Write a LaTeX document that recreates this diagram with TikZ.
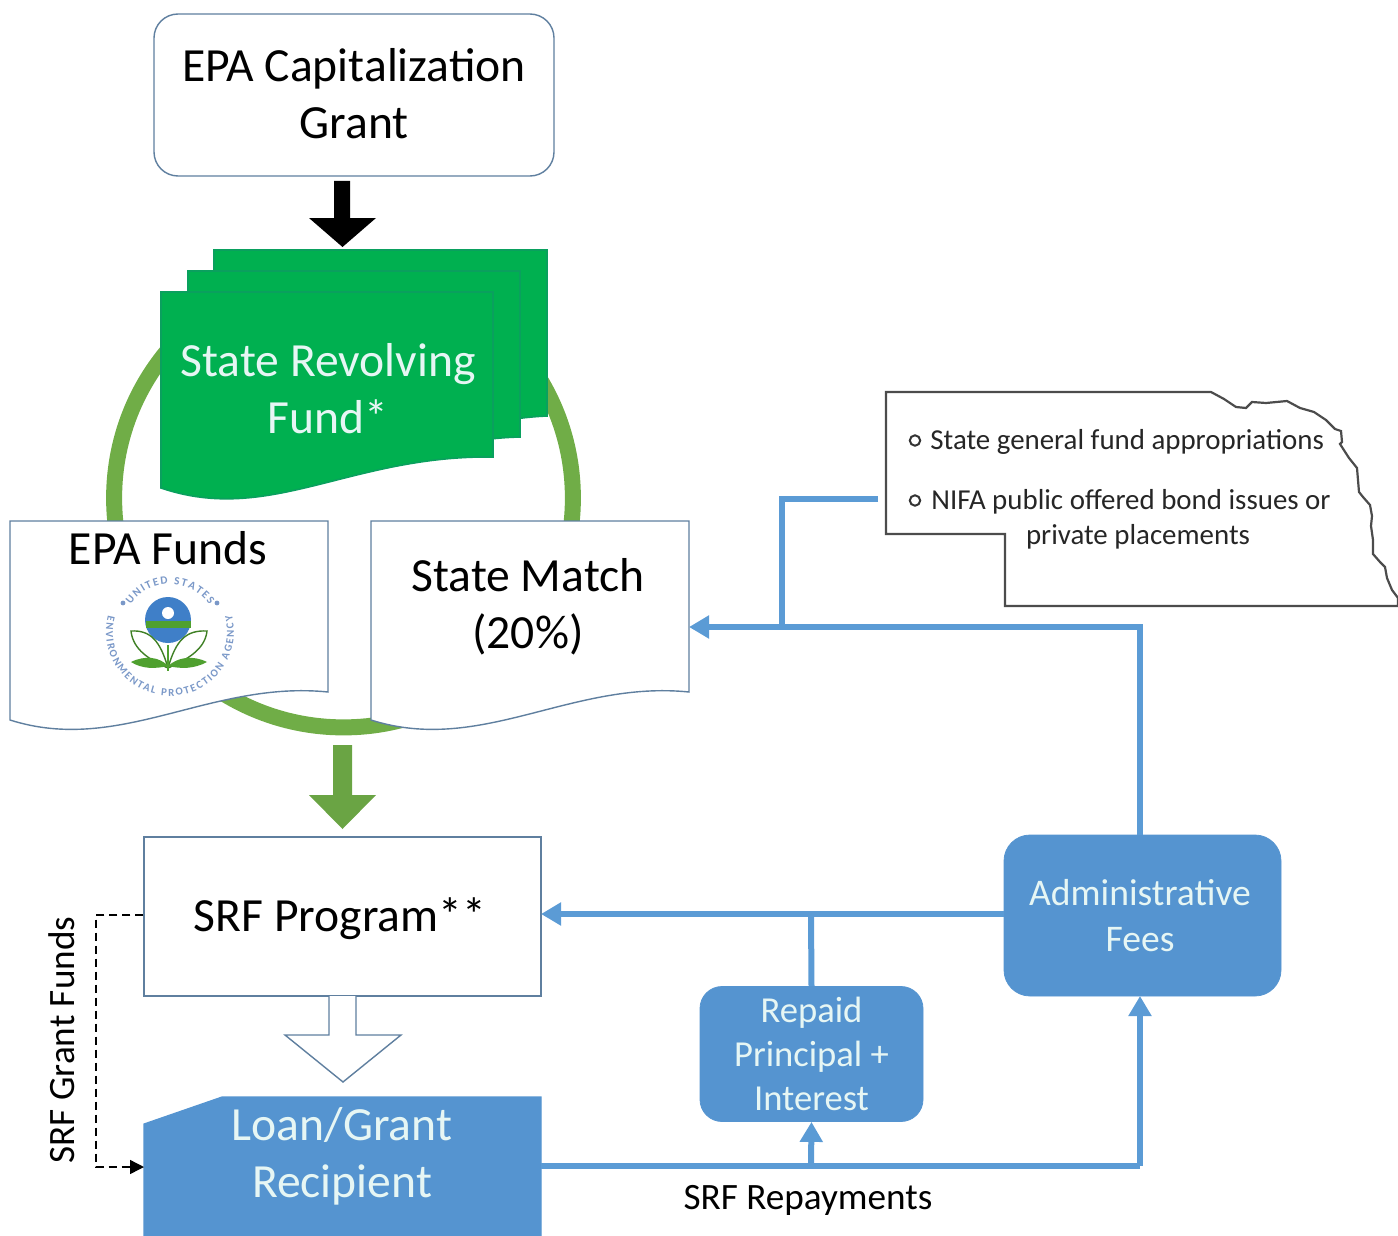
\documentclass[tikz,border=0pt]{standalone}
\usepackage{fontspec}
\setmainfont{Carlito}
\usetikzlibrary{arrows.meta,decorations.text}
\definecolor{edgeblue}{HTML}{5F7F9F}
\definecolor{srfblue}{HTML}{5B9BD5}
\definecolor{boxblue}{HTML}{5594D0}
\definecolor{sheetgreen}{HTML}{00B050}
\definecolor{sheetedge}{HTML}{0AA05E}
\definecolor{ringgreen}{HTML}{70AD47}
\definecolor{paletext}{HTML}{E6F6F4}
\definecolor{logotext}{HTML}{7A98C8}
\definecolor{logoblue}{HTML}{3F7FC8}
\definecolor{logogreen}{HTML}{4FA02F}
\tikzset{
  x=0.5pt,y=-0.5pt,
  bigtext/.style={font=\fontsize{23.8}{28.5}\selectfont,align=center,inner sep=0pt},
  midtext/.style={font=\fontsize{18.8}{22.8}\selectfont,align=center,inner sep=0pt},
  labeltext/.style={font=\fontsize{18.6}{20}\selectfont,inner sep=0pt},
  nebtext/.style={font=\fontsize{14.45}{17.5}\selectfont,text=black!85,inner sep=0pt},
  whitebox/.style={draw=edgeblue,fill=white,line width=0.7pt},
  flow/.style={draw=srfblue,line width=3pt},
  flowtip/.style={-{Triangle[length=10pt,width=11pt]}},
  bluebox/.style={fill=boxblue,draw=boxblue,rounded corners=13pt,inner sep=0pt},
  sheet/.style={fill=sheetgreen,draw=sheetedge,line width=0.8pt},
  logoarc/.style={decorate},
}
\begin{document}
\begin{tikzpicture}
\useasboundingbox (0,0) rectangle (1398,1236);
% ring
\draw[ringgreen,line width=8pt] (343.5,498) circle (114.7pt);
% stacked sheets
\path[sheet] (214,250) -- (547,250) -- (547,416) .. controls (500,418) and (460,430) .. (400,445) -- (214,445) -- cycle;
\path[sheet] (188,271) -- (520,271) -- (520,437) .. controls (480,438) and (450,445) .. (400,460) -- (188,460) -- cycle;
\path[sheet] (161,292) -- (493,292) -- (493,457) .. controls (350,455) and (270,525) .. (161,488) -- cycle;
\node[bigtext,text=paletext] (srf) at (328,389) {State Revolving\\Fund*};
% documents
\path[whitebox] (10,521) -- (328,521) -- (328,692) .. controls (210,680) and (120,755) .. (10,720) -- cycle;
\path[whitebox] (371,521) -- (689,521) -- (689,692) .. controls (571,680) and (481,755) .. (371,720) -- cycle;
\node[bigtext] (epafunds) at (168,548) {EPA Funds};
\node[bigtext] (match) at (528,606.5) {State Match\\(20\%)};
\coordinate (matchin) at (689,627);
% logo
\fill[logoblue] (168,620) circle (11.5pt);
\fill[white] (168,613) circle (3pt);
\fill[logogreen] (145.5,621) rectangle (190.5,628);
\draw[logogreen!80!black,line width=0.7pt,fill=white] (168,668) .. controls (160,640) and (150,630) .. (131,631) .. controls (133,650) and (150,660) .. (168,668);
\draw[logogreen!80!black,line width=0.7pt,fill=white] (168,668) .. controls (176,640) and (186,630) .. (207,631) .. controls (205,650) and (186,660) .. (168,668);
\draw[logogreen,line width=0.8pt] (168,645) -- (168,671);
\fill[logogreen] (131,662) .. controls (145,655) and (160,657) .. (168,666) .. controls (155,669) and (142,669) .. (131,662);
\fill[logogreen] (207,662) .. controls (193,655) and (178,657) .. (168,666) .. controls (181,669) and (194,669) .. (207,662);
\path[logoarc,decoration={text along path,text align={fit to path},text={|\fontsize{5.6}{7}\selectfont\bfseries\color{logotext}|UNITED STATES}}] (170,632) ++(145:24pt) arc[start angle=145,end angle=35,radius=24pt];
\path[logoarc,decoration={text along path,text align={fit to path},text={|\fontsize{5.4}{7}\selectfont\bfseries\color{logotext}|ENVIRONMENTAL PROTECTION AGENCY}}] (170,632) ++(165:32pt) arc[start angle=165,end angle=375,radius=32pt];
\fill[logotext] (123,603) circle (1.2pt);
\fill[logotext] (217,603) circle (1.2pt);
% top box
\node[whitebox,rounded corners=12pt,minimum width=200pt,minimum height=81pt,inner sep=0pt] (cap) at (354,95) {};
\node[bigtext] (captext) at (354,93.5) {EPA Capitalization\\Grant};
% black arrow
\fill[black] (334,181) -- (350,181) -- (350,218) -- (376,218) -- (342.5,247) -- (309,218) -- (334,218) -- cycle;
% green arrow
\fill[ringgreen!95!black] (333,745) -- (352,745) -- (352,795) -- (376,795) -- (342.5,829) -- (309,795) -- (333,795) -- cycle;
% SRF program
\node[whitebox,minimum width=198.5pt,minimum height=79.5pt,inner sep=0pt] (prog) at (342.5,916.5) {};
\node[bigtext] (progtext) at (340,919) {SRF Program**};
% hollow arrow
\path[whitebox] (329,996) -- (329,1035) -- (285,1035) -- (343,1082) -- (401,1035) -- (356,1035) -- (356,996);
% recipient
\path[fill=boxblue,draw=boxblue,line width=0.6pt] (144,1124) -- (222,1097) -- (541,1097) -- (541,1236) -- (144,1236) -- cycle;
\node[bigtext,text=paletext] (recip) at (342,1156.5) {Loan/Grant\\Recipient};
\coordinate (recipeast) at (541,1166);
\coordinate (recipwest) at (144,1167);
% blue boxes
\node[bluebox,minimum width=138.5pt,minimum height=80.5pt] (admin) at (1142.5,915.5) {};
\node[midtext,text=paletext] (admintext) at (1140,915.5) {Administrative\\[0.2pt]Fees};
\node[bluebox,minimum width=111.5pt,minimum height=67.5pt,text=paletext,midtext,rounded corners=11pt,font=\fontsize{18.3}{22}\selectfont] (repaid) at (811.5,1054) {Repaid\\Principal +\\Interest};
% Nebraska
\path[draw=black!70,fill=white,line width=1.1pt] (886,392) -- (1211,392) -- (1224,399) -- (1236,407) -- (1246,408) -- (1252,402) -- (1266,403) -- (1287,401) -- (1300,408) -- (1314,412) -- (1326,420) -- (1335,429) -- (1341,431) -- (1342,442) -- (1340,444) -- (1349,458) -- (1357,468) -- (1358,480) -- (1359,492) -- (1363,497) -- (1370,505) -- (1372,516) -- (1371,526) -- (1373,540) -- (1373,554) -- (1380,562) -- (1385,567) -- (1387,578) -- (1392,590) -- (1398,598) -- (1398,606) -- (1005,606) -- (1005,534) -- (886,534) -- cycle;
\draw[black!80,line width=1pt] (915,440.5) circle (2.6pt);
\draw[black!80,line width=1pt] (915,500.5) circle (2.6pt);
\node[nebtext,anchor=west] (b1) at (930,441.5) {State general fund appropriations};
\node[nebtext,anchor=west] (b2) at (931,501.5) {NIFA public offered bond issues or};
\node[nebtext] (b3) at (1138,536.5) {private placements};
\coordinate (nebwest) at (878,499);
% flows
\coordinate (j1) at (782,627);
\coordinate (j2) at (811,914);
\coordinate (j3) at (811,1166);
\coordinate (c1) at (1140,627);
\coordinate (c2) at (1140,1166);
\coordinate (adminn) at (1140,835);
\coordinate (admins) at (1140,996);
\coordinate (adminw) at (1004,914);
\coordinate (progin) at (541,914);
\draw[flow,flowtip] (adminn) -- (c1) -- (matchin);
\draw[flow] (nebwest) -| (j1);
\draw[flow,flowtip] (adminw) -- (progin);
\draw[flow] (j2) -- (repaid.north);
\draw[flow] (recipeast) -- (c2);
\draw[flow,flowtip] (c2) -- (admins);
\draw[flow,flowtip] (j3) -- (repaid.south);
% dashed
\draw[black,line width=0.7pt,dash pattern=on 4pt off 2.5pt,-{Triangle[length=7pt,width=7pt]}] (prog.west |- 0,915) -| (96,1167) -- (recipwest);
\node[labeltext,rotate=90] (grant) at (62,1040) {SRF Grant Funds};
\node[labeltext] (repay) at (808,1200) {SRF Repayments};
\end{tikzpicture}
\end{document}
